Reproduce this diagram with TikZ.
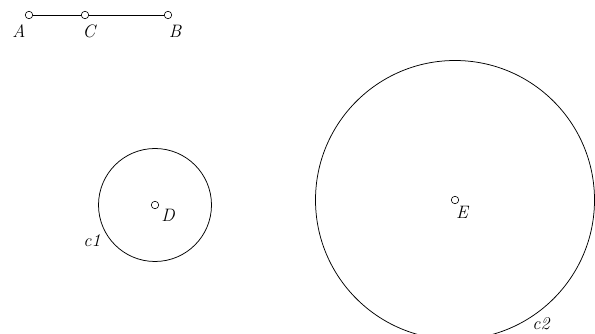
\documentclass[tikz,border=0pt]{standalone}
\usepackage{fontspec}
\usetikzlibrary{positioning}
\begin{document}
\begin{tikzpicture}[x=1pt,y=-1pt,
    pt/.style={circle,draw,line width=0.6pt,fill=white,
               minimum size=7.5pt,inner sep=0pt},
    lbl/.style={font=\fontsize{18}{21}\selectfont\itshape,inner sep=0pt},
    crc/.style={draw,line width=0.75pt}]

    \clip (0,0) rectangle (595,334);

    % segment A C B
    \node[pt] (A) at (29,15) {};
    \node[pt] (C) at (85,15) {};
    \node[pt] (B) at (168,15) {};
    \draw[line width=0.75pt] (A) -- (C) -- (B);
    \node[lbl] (lA) at (19,31) {A};
    \node[lbl] (lC) at (89,31) {C};
    \node[lbl] (lB) at (175,31) {B};

    % circle c1
    \node[pt] (D) at (155,205) {};
    \draw[crc] (D.center) circle[radius=56.5pt];
    \node[lbl] (lD) at (168,215) {D};
    \node[lbl] (lc1) at (92,241) {c1};

    % circle c2
    \node[pt] (E) at (455,200) {};
    \draw[crc] (E.center) circle[radius=139.5pt];
    \node[lbl] (lE) at (462,212) {E};
    \node[lbl] (lc2) at (541,324) {c2};
  \end{tikzpicture}
\end{document}
